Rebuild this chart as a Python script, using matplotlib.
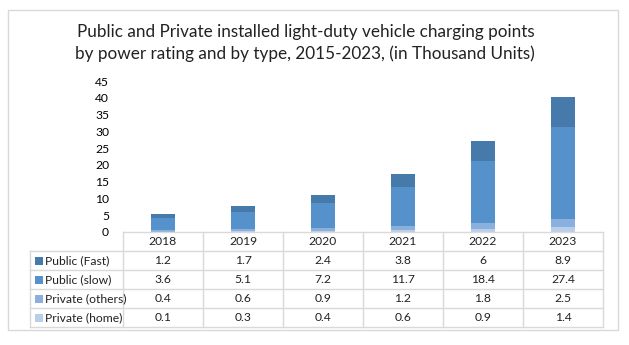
import matplotlib.pyplot as plt
from matplotlib.patches import Rectangle

plt.rcParams['font.family'] = ['Lato', 'DejaVu Sans']

years = ["2018", "2019", "2020", "2021", "2022", "2023"]
series_names = ["Public (Fast)", "Public (slow)", "Private (others)", "Private (home)"]
public_fast = [1.2, 1.7, 2.4, 3.8, 6, 8.9]
public_slow = [3.6, 5.1, 7.2, 11.7, 18.4, 27.4]
private_others = [0.4, 0.6, 0.9, 1.2, 1.8, 2.5]
private_home = [0.1, 0.3, 0.4, 0.6, 0.9, 1.4]

COLORS = {
    "Public (Fast)": "#467AAB",
    "Public (slow)": "#5591CA",
    "Private (others)": "#8CB0DD",
    "Private (home)": "#B9CEEA",
}
GRID = "#D9D9D9"

values = {
    "Public (Fast)": public_fast,
    "Public (slow)": public_slow,
    "Private (others)": private_others,
    "Private (home)": private_home,
}

W, H = 629, 345
fig = plt.figure(figsize=(W / 100, H / 100), dpi=100)

def fx(px):
    return px / W

def fy(py):
    return 1 - py / H

# outer frame
fig.patches.append(Rectangle((fx(8), fy(330)), fx(610), 320 / H, transform=fig.transFigure,
                             fill=False, edgecolor=GRID, linewidth=1))

fig.text(fx(306), fy(32), "Public and Private installed light-duty vehicle charging points",
         ha='center', va='center', fontsize=12.3, color='#222222')
fig.text(fx(305), fy(54), "by power rating and by type, 2015-2023, (in Thousand Units)",
         ha='center', va='center', fontsize=12.3, color='#222222')

# chart area
x_left, x_right = 123, 603
y_top, y_bot = 81, 232
ax = fig.add_axes([fx(x_left), fy(y_bot), fx(x_right - x_left), (y_bot - y_top) / H])
xs = list(range(len(years)))
bottom = [0] * len(years)
for name in reversed(series_names):
    ax.bar(xs, values[name], bottom=bottom, width=0.31, color=COLORS[name], linewidth=0)
    bottom = [b + v for b, v in zip(bottom, values[name])]
ax.set_xlim(-0.5, len(years) - 0.5)
ax.set_ylim(0, 45)
ax.set_yticks(range(0, 46, 5))
ax.set_xticks([])
ax.tick_params(axis='y', length=0, labelsize=8.7, pad=10)
for s in ax.spines.values():
    s.set_visible(False)
ax.patch.set_alpha(0)

# data table
tab_left = 30
row_h = 19
rows_y = [232 + i * row_h for i in range(6)]
col_w = (x_right - x_left) / len(years)
tax = fig.add_axes([0, 0, 1, 1])
tax.set_xlim(0, W)
tax.set_ylim(H, 0)
tax.axis('off')

lw = 1
tax.plot([x_left, x_right], [rows_y[0], rows_y[0]], color=GRID, lw=lw)
for y in rows_y[1:]:
    tax.plot([tab_left, x_right], [y, y], color=GRID, lw=lw)
tax.plot([tab_left, tab_left], [rows_y[1], rows_y[-1]], color=GRID, lw=lw)
for i in range(len(years) + 1):
    x = x_left + i * col_w
    tax.plot([x, x], [rows_y[0], rows_y[-1]], color=GRID, lw=lw)

for i, yr in enumerate(years):
    tax.text(x_left + (i + 0.5) * col_w, (rows_y[0] + rows_y[1]) / 2, yr,
             ha='center', va='center', fontsize=8.7, color='#222222')

for r, name in enumerate(series_names):
    yc = (rows_y[r + 1] + rows_y[r + 2]) / 2
    tax.add_patch(Rectangle((35, yc - 4), 8, 8, color=COLORS[name], linewidth=0))
    tax.text(45, yc, name, ha='left', va='center', fontsize=8.7, color='#222222')
    for i, v in enumerate(values[name]):
        tax.text(x_left + (i + 0.5) * col_w, yc, f"{v:g}",
                 ha='center', va='center', fontsize=8.7, color='#222222')

fig.savefig("out.png", dpi=100)
